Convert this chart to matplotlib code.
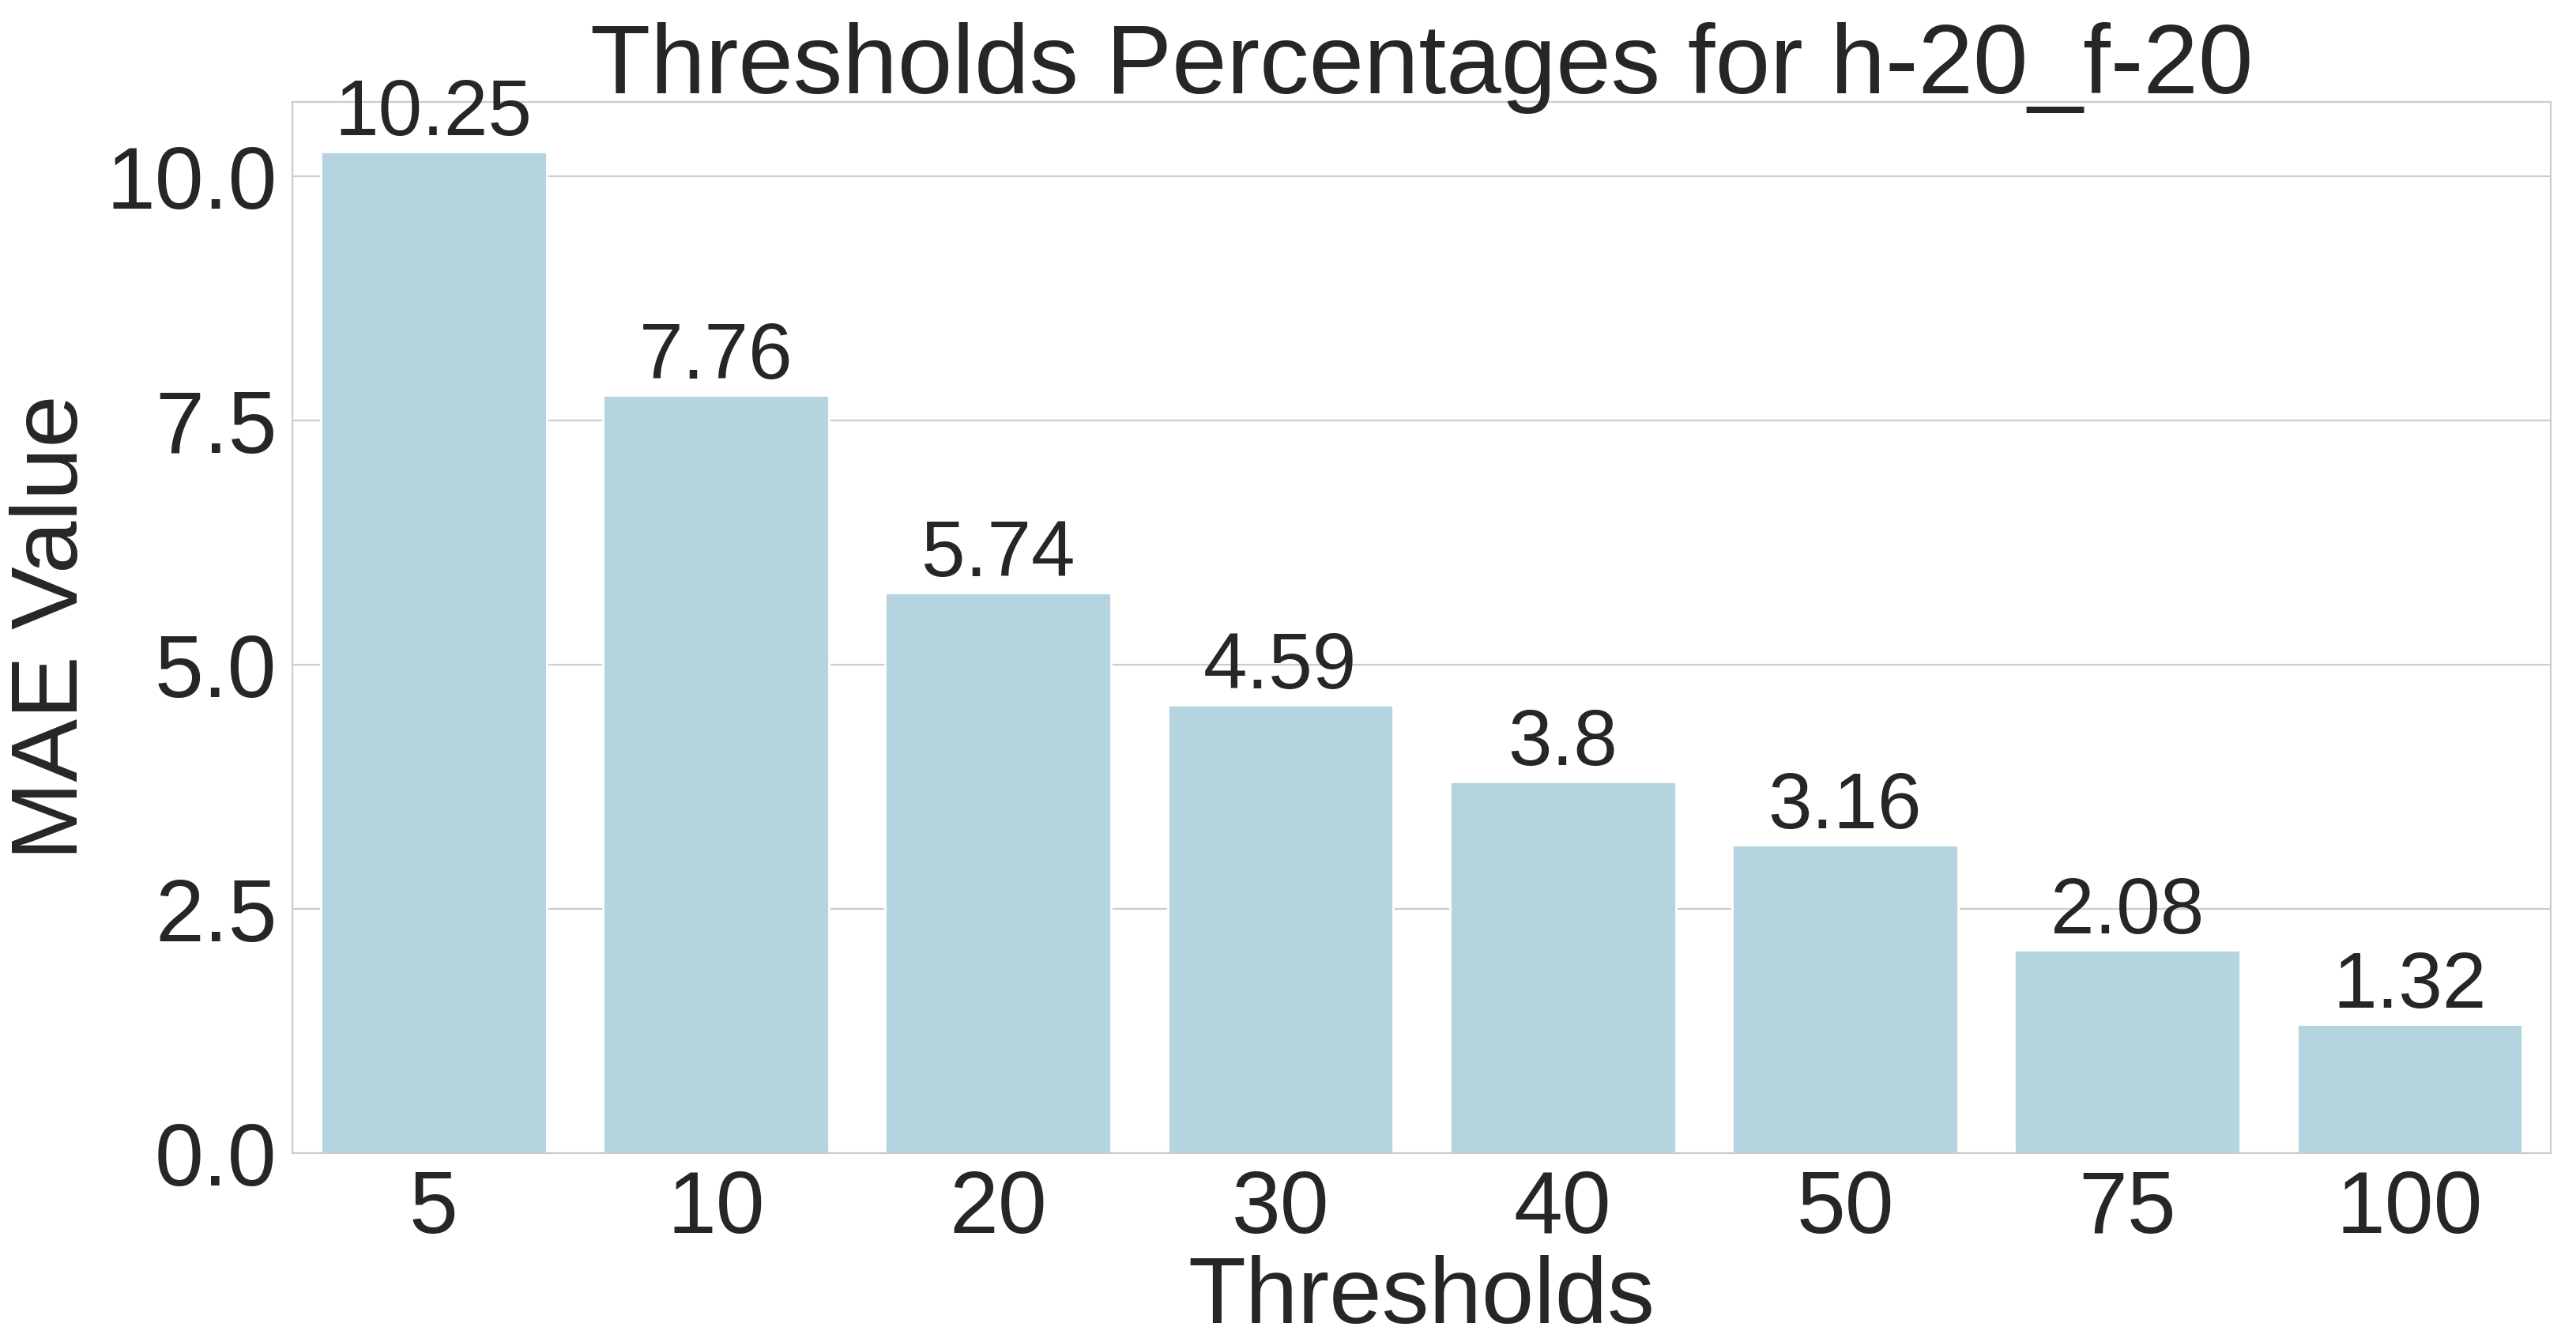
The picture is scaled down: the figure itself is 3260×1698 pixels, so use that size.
import matplotlib
matplotlib.use("Agg")
import matplotlib.pyplot as plt
import seaborn as sns
import pandas as pd

# thresholds and MAE values
thresholds = ["5", "10", "20", "30", "40", "50", "75", "100"]
mae_values = [10.25, 7.76, 5.74, 4.59, 3.8, 3.16, 2.08, 1.32]

sns.set_style("whitegrid")
plt.rcParams['font.family'] = ['Liberation Sans', 'DejaVu Sans']

df = pd.DataFrame({'Thresholds': thresholds, 'MAE Value': mae_values})

fig = plt.figure(figsize=(16.3, 8.49), dpi=200)
ax = fig.add_axes([0.1135, 0.1407, 0.8767, 0.7833])
sns.barplot(data=df, x='Thresholds', y='MAE Value', color='lightblue', ax=ax)

for c in ax.containers:
    ax.bar_label(c, fontsize=36, color='#262626')

ax.set_title("Thresholds Percentages for h-20_f-20", fontsize=45, pad=4)
ax.set_xlabel("Thresholds", fontsize=43, labelpad=2)
ax.set_ylabel("MAE Value", fontsize=43)
ax.tick_params(axis='both', labelsize=40)

fig.savefig("out.png", dpi=200)
